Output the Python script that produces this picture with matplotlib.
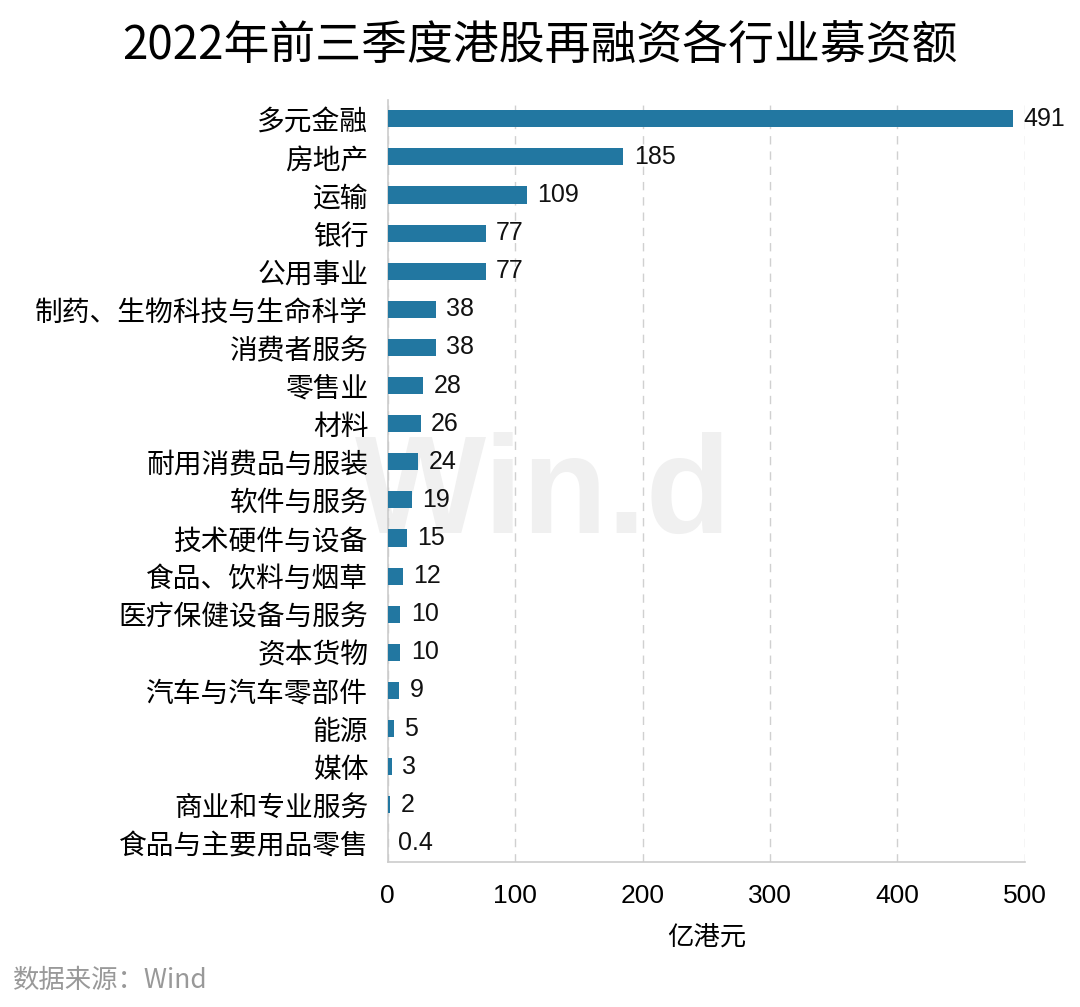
import numpy as np
import matplotlib
matplotlib.use('Agg')
import matplotlib.pyplot as plt

plt.rcParams['font.family'] = ['Liberation Sans', 'Noto Sans CJK SC', 'DejaVu Sans']

#---------------- data ----------------
industries = ['多元金融', '房地产', '运输', '银行', '公用事业',
              '制药、生物科技与生命科学', '消费者服务', '零售业', '材料',
              '耐用消费品与服装', '软件与服务', '技术硬件与设备',
              '食品、饮料与烟草', '医疗保健设备与服务', '资本货物',
              '汽车与汽车零部件', '能源', '媒体', '商业和专业服务',
              '食品与主要用品零售']
amounts = [491, 185, 109, 77, 77, 38, 38, 28, 26, 24, 19, 15, 12, 10, 10, 9, 5, 3, 2, 0.4]
value_labels = ['491', '185', '109', '77', '77', '38', '38', '28', '26', '24',
                '19', '15', '12', '10', '10', '9', '5', '3', '2', '0.4']
xticks = [0, 100, 200, 300, 400, 500]

bar_color = '#2277a1'
cjk = ['Noto Sans CJK SC', 'DejaVu Sans']

fig = plt.figure(figsize=(10.8, 10.07), dpi=100)

# watermark behind the axes
fig.text(0.503, 0.507, 'Win.d', fontsize=100, fontweight='bold', color='#f0f0f0',
         ha='center', va='center', zorder=-5)

ax = fig.add_axes([0.359, 0.144, 0.59, 0.757])
ax.patch.set_alpha(0)

y = np.arange(len(industries))
ax.barh(y, amounts, height=0.45, color=bar_color, zorder=3)

for yi, v, s in zip(y, amounts, value_labels):
    ax.text(v + 8, yi, s, va='center', ha='left', fontsize=18, color='#111111')

ax.set_yticks(y)
ax.set_yticklabels(industries, fontsize=20, family=cjk)
ax.set_ylim(len(industries) - 0.5, -0.5)
ax.set_xlim(0, 500)
ax.set_xticks(xticks)
ax.set_xticklabels([str(t) for t in xticks], fontsize=19)
ax.tick_params(axis='both', length=0)
ax.tick_params(axis='x', pad=16)
ax.tick_params(axis='y', pad=14)

ax.grid(axis='x', linestyle=(0, (6, 5)), color='#d0d0d0', linewidth=1, zorder=0)
for side in ['top', 'right']:
    ax.spines[side].set_visible(False)
ax.spines['left'].set_color('#cccccc')
ax.spines['bottom'].set_color('#cccccc')
ax.spines['left'].set_linewidth(1.2)
ax.spines['bottom'].set_linewidth(1.2)

ax.set_xlabel('亿港元', fontsize=19, family=cjk, labelpad=11)

fig.text(0.5, 0.955, '2022年前三季度港股再融资各行业募资额', fontsize=33,
         ha='center', va='center', family=cjk, fontweight='light')
fig.text(0.012, 0.026, '数据来源：Wind', fontsize=19, color='#999999',
         ha='left', va='center', family=cjk)

fig.savefig('out.png', dpi=100)
